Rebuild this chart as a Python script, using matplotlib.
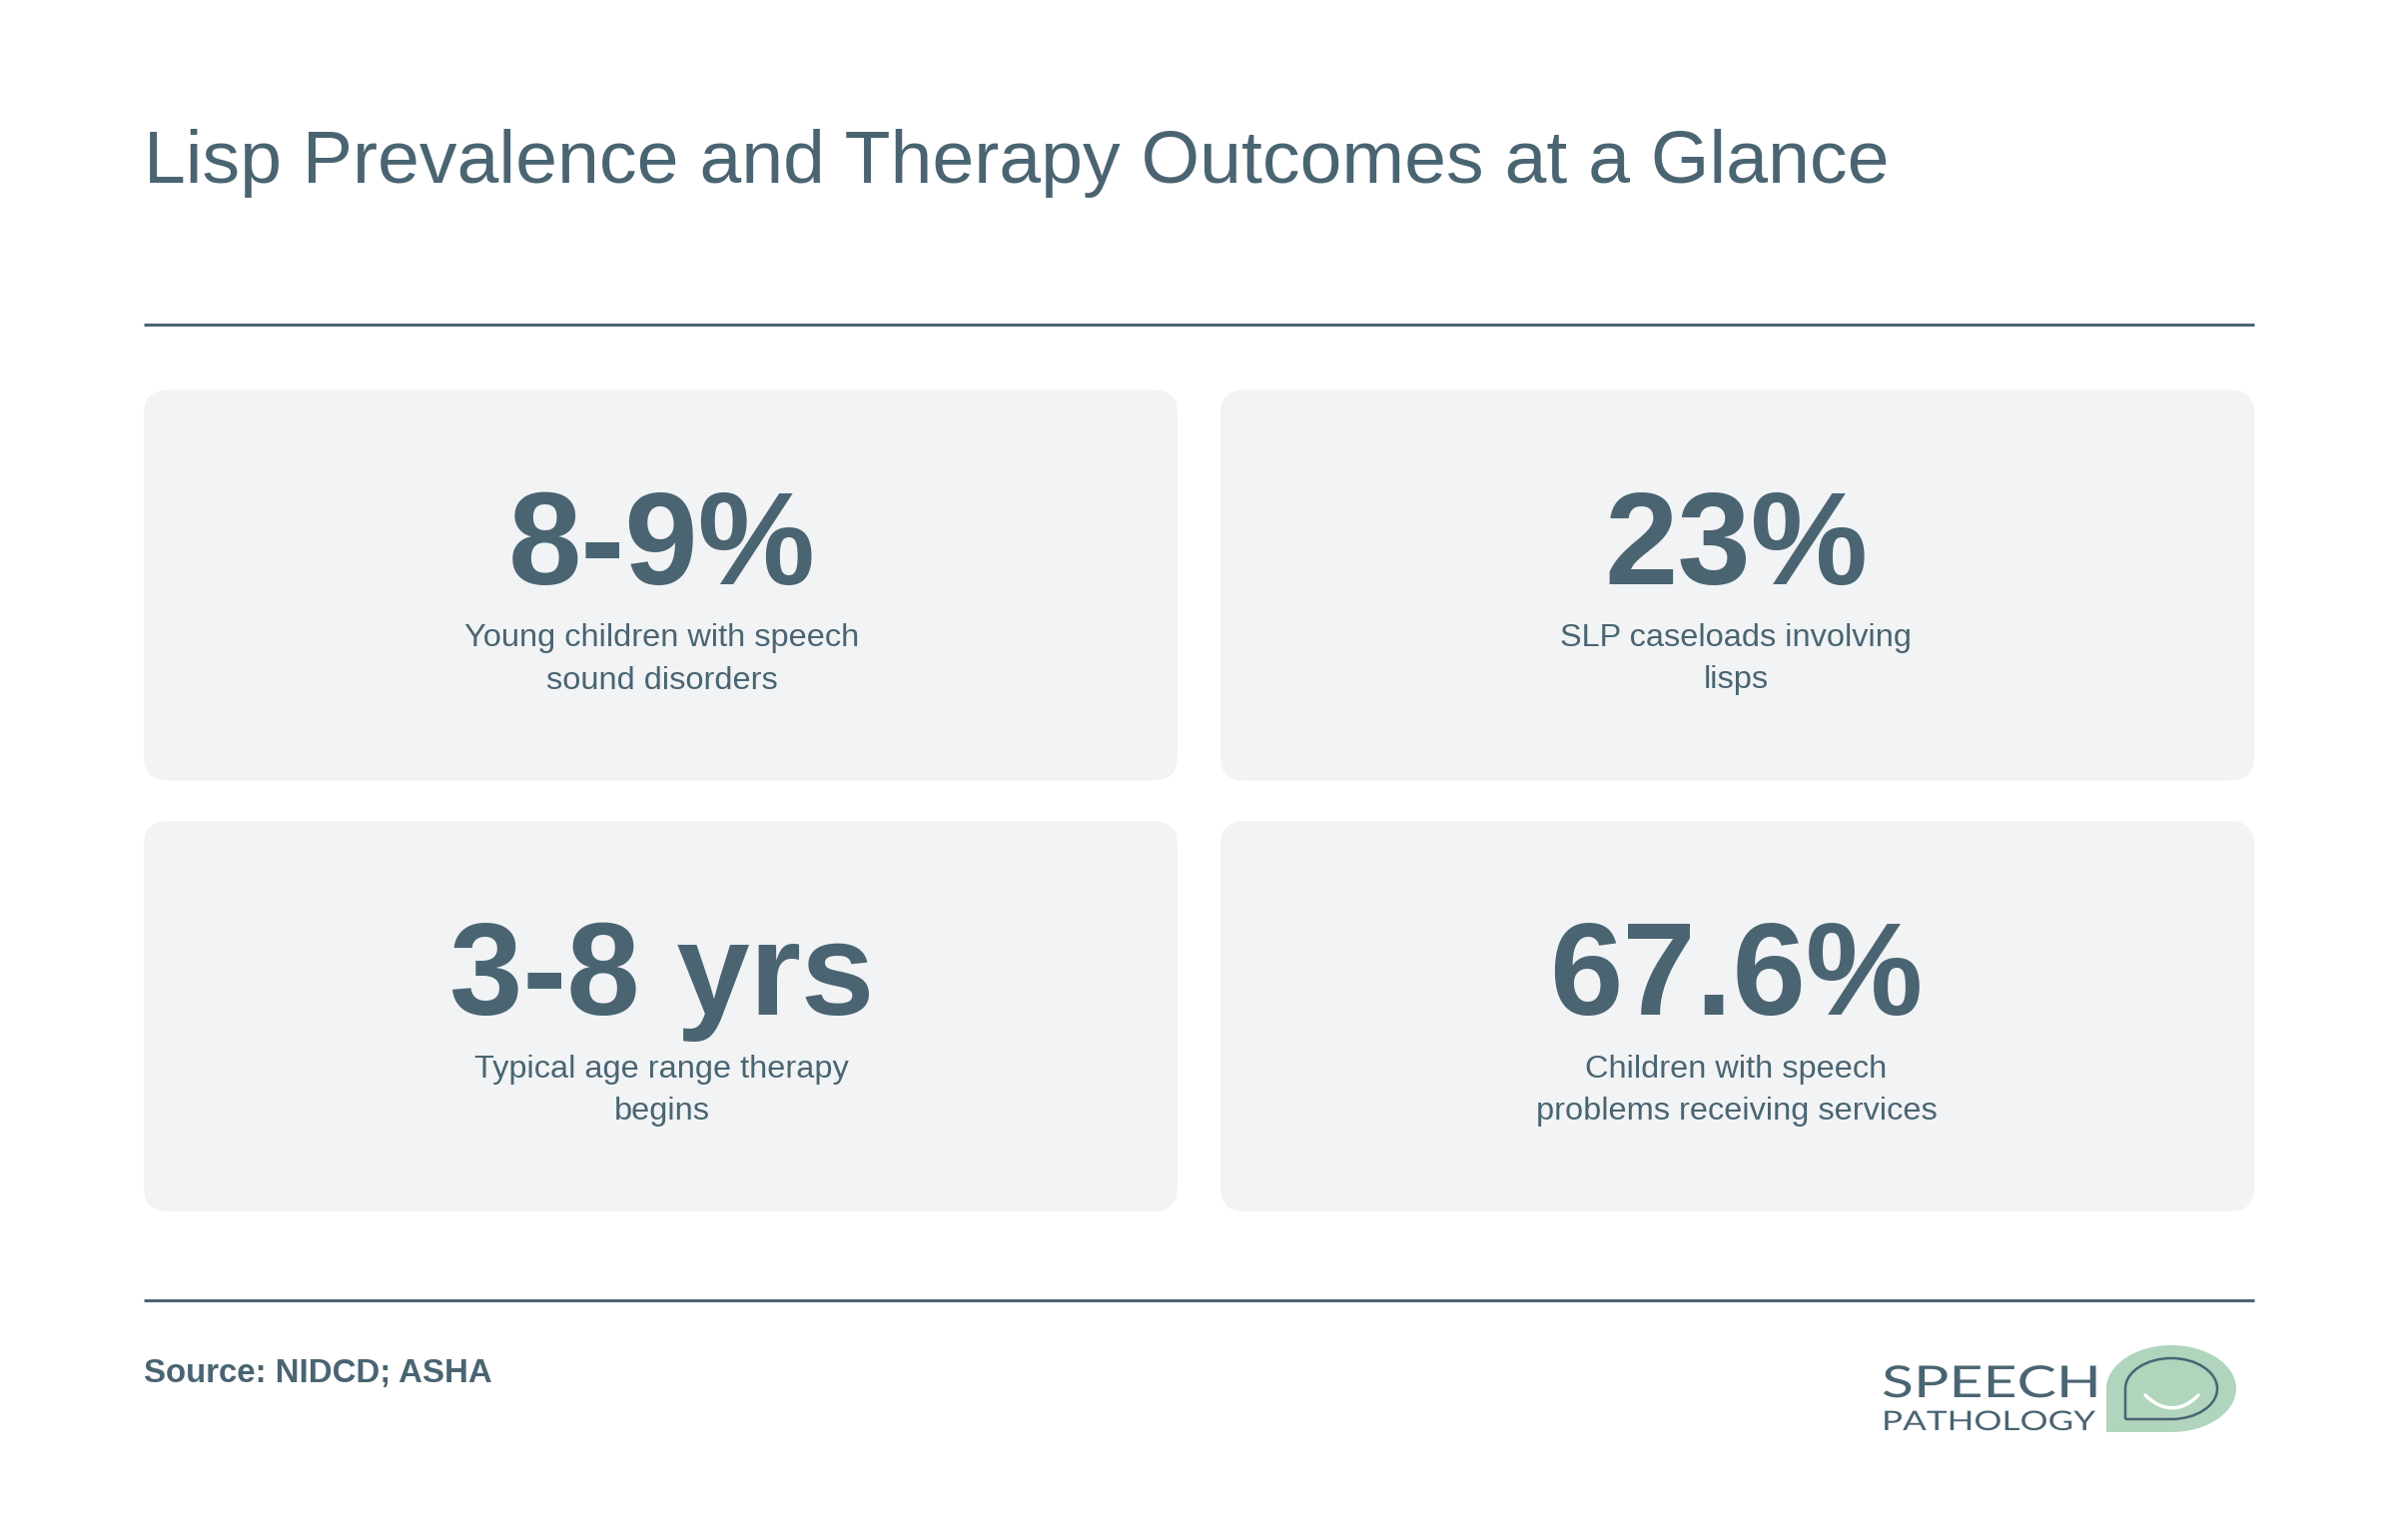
import matplotlib
matplotlib.use("Agg")
import matplotlib.pyplot as plt
import matplotlib.patheffects as pe
from matplotlib.patches import FancyBboxPatch, PathPatch
from matplotlib.path import Path
from matplotlib.transforms import Affine2D

plt.rcParams['font.family'] = ['Liberation Sans', 'DejaVu Sans']

# ── card contents ──
TITLE = "Lisp Prevalence and Therapy Outcomes at a Glance"
SOURCE = "Source: NIDCD; ASHA"
STATS = ["8-9%", "23%", "3-8 yrs", "67.6%"]
LABELS = [
    "Young children with speech\nsound disorders",
    "SLP caseloads involving\nlisps",
    "Typical age range therapy\nbegins",
    "Children with speech\nproblems receiving services",
]

INK = "#4a6472"
CARD = "#f1f3f5"
GREEN = "#b0d4bc"
W, H = 2400, 1542
PT = 72 / 100  # device px -> pt at dpi 100


class StretchX(pe.AbstractPathEffect):
    # the logo lettering is wider than any installed font
    def __init__(self, x0, sx):
        super().__init__()
        self.x0, self.sx = x0, sx

    def draw_path(self, renderer, gc, tpath, affine, rgbFace=None):
        stretch = Affine2D().translate(-self.x0, 0).scale(self.sx, 1).translate(self.x0, 0)
        renderer.draw_path(gc, tpath, affine + stretch, rgbFace)


fig = plt.figure(figsize=(W / 100, H / 100), dpi=100, facecolor="white")
ax = fig.add_axes([0, 0, 1, 1])
ax.set_xlim(0, W)
ax.set_ylim(H, 0)
ax.axis("off")

ax.text(144, 164, TITLE, fontsize=75.3 * PT, color=INK, ha="left", va="center")
for y in (324.5, 1302):
    ax.plot([144, 2257], [y, y], color=INK, lw=3 * PT, solid_capstyle="butt")

card_x = [144, 1222]
card_y = [390.5, 822]
card_w, card_h = 1035, 391
for i, (stat, label) in enumerate(zip(STATS, LABELS)):
    x0 = card_x[i % 2]
    y0 = card_y[i // 2]
    r = 24
    ax.add_patch(FancyBboxPatch((x0 + r, y0 + r), card_w - 2 * r, card_h - 2 * r,
                                boxstyle=f"round,pad={r},rounding_size={r}",
                                fc=CARD, ec="none"))
    cx = x0 + card_w / 2 + 1 - (i % 2) * 2
    ax.text(cx, y0 + 194, stat, fontsize=132 * PT, fontweight="bold", color=INK,
            ha="center", va="baseline")
    ax.text(cx, y0 + 257, label.split("\n")[0], fontsize=32.5 * PT, color=INK,
            ha="center", va="baseline")
    ax.text(cx, y0 + 299, label.split("\n")[1], fontsize=32.5 * PT, color=INK,
            ha="center", va="baseline")

ax.text(144, 1384, SOURCE, fontsize=33 * PT, fontweight="bold", color=INK,
        ha="left", va="baseline")

# ── logo ──
ax.text(1884, 1399, "SPEECH", fontsize=44 * PT, family="Lato", color=INK,
        ha="left", va="baseline", path_effects=[StretchX(1884, 1.34)])
ax.text(1884, 1432, "PATHOLOGY", fontsize=27 * PT, family="Lato", color=INK,
        ha="left", va="baseline", path_effects=[StretchX(1884, 1.3)])


def bubble(l, t, r, b):
    # ellipse with a square bottom-left corner
    mx, my = (l + r) / 2, (t + b) / 2
    dx, dy = (r - l) * 0.225, (b - t) * 0.225
    verts = [(l, b), (l, my), (l, t + dy), (l + dx, t), (mx, t),
             (r - dx, t), (r, t + dy), (r, my),
             (r, b - dy), (r - dx, b), (mx, b), (l, b)]
    codes = [Path.MOVETO, Path.LINETO, Path.CURVE4, Path.CURVE4, Path.CURVE4,
             Path.CURVE4, Path.CURVE4, Path.CURVE4,
             Path.CURVE4, Path.CURVE4, Path.CURVE4, Path.LINETO]
    return Path(verts, codes)


ax.add_patch(PathPatch(bubble(2109, 1347, 2239, 1434), fc=GREEN, ec="none"))
ax.add_patch(PathPatch(bubble(2128, 1360, 2220, 1421), fc="none", ec=INK, lw=2.5 * PT))
smile = Path([(2148, 1397), (2165, 1414), (2185, 1414), (2201, 1397)],
             [Path.MOVETO, Path.CURVE4, Path.CURVE4, Path.CURVE4])
ax.add_patch(PathPatch(smile, fc="none", ec="white", lw=3.5 * PT, capstyle="round"))

fig.savefig("out.png", dpi=100, facecolor="white")
